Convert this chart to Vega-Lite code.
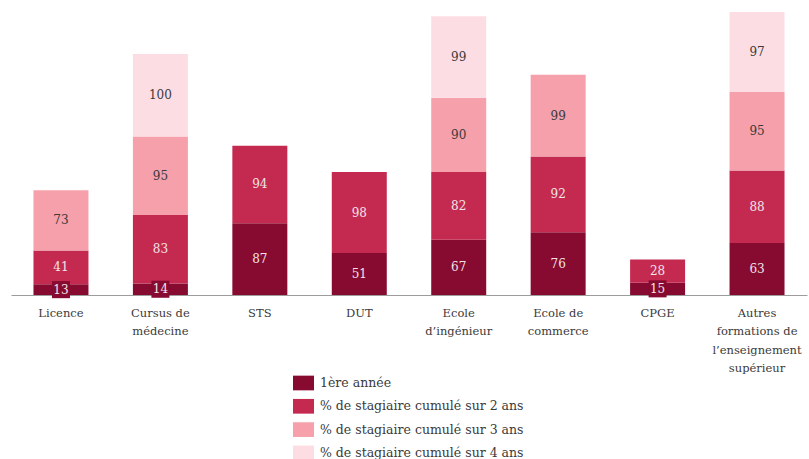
{
  "$schema": "https://vega.github.io/schema/vega-lite/v6.json",
  "width": 796,
  "height": 295,
  "autosize": {"type": "none"},
  "padding": {"left": 11, "top": 0, "right": 2, "bottom": 164},
  "background": "white",
  "config": {"view": {"stroke": null}, "font": "DejaVu Serif"},
  "data": {"values": [
    {"cat": "Licence", "serie": "1ère année", "order": 1, "value": 13},
    {"cat": "Licence", "serie": "% de stagiaire cumulé sur 2 ans", "order": 2, "value": 41},
    {"cat": "Licence", "serie": "% de stagiaire cumulé sur 3 ans", "order": 3, "value": 73},
    {"cat": "Cursus de médecine", "serie": "1ère année", "order": 1, "value": 14},
    {"cat": "Cursus de médecine", "serie": "% de stagiaire cumulé sur 2 ans", "order": 2, "value": 83},
    {"cat": "Cursus de médecine", "serie": "% de stagiaire cumulé sur 3 ans", "order": 3, "value": 95},
    {"cat": "Cursus de médecine", "serie": "% de stagiaire cumulé sur 4 ans", "order": 4, "value": 100},
    {"cat": "STS", "serie": "1ère année", "order": 1, "value": 87},
    {"cat": "STS", "serie": "% de stagiaire cumulé sur 2 ans", "order": 2, "value": 94},
    {"cat": "DUT", "serie": "1ère année", "order": 1, "value": 51},
    {"cat": "DUT", "serie": "% de stagiaire cumulé sur 2 ans", "order": 2, "value": 98},
    {"cat": "Ecole d’ingénieur", "serie": "1ère année", "order": 1, "value": 67},
    {"cat": "Ecole d’ingénieur", "serie": "% de stagiaire cumulé sur 2 ans", "order": 2, "value": 82},
    {"cat": "Ecole d’ingénieur", "serie": "% de stagiaire cumulé sur 3 ans", "order": 3, "value": 90},
    {"cat": "Ecole d’ingénieur", "serie": "% de stagiaire cumulé sur 4 ans", "order": 4, "value": 99},
    {"cat": "Ecole de commerce", "serie": "1ère année", "order": 1, "value": 76},
    {"cat": "Ecole de commerce", "serie": "% de stagiaire cumulé sur 2 ans", "order": 2, "value": 92},
    {"cat": "Ecole de commerce", "serie": "% de stagiaire cumulé sur 3 ans", "order": 3, "value": 99},
    {"cat": "CPGE", "serie": "1ère année", "order": 1, "value": 15},
    {"cat": "CPGE", "serie": "% de stagiaire cumulé sur 2 ans", "order": 2, "value": 28},
    {"cat": "Autres formations de l’enseignement supérieur", "serie": "1ère année", "order": 1, "value": 63},
    {"cat": "Autres formations de l’enseignement supérieur", "serie": "% de stagiaire cumulé sur 2 ans", "order": 2, "value": 88},
    {"cat": "Autres formations de l’enseignement supérieur", "serie": "% de stagiaire cumulé sur 3 ans", "order": 3, "value": 95},
    {"cat": "Autres formations de l’enseignement supérieur", "serie": "% de stagiaire cumulé sur 4 ans", "order": 4, "value": 97}
  ]},
  "transform": [
    {"stack": "value", "groupby": ["cat"], "sort": [{"field": "order", "order": "ascending"}], "as": ["v0", "v1"]},
    {"calculate": "(datum.v0 + datum.v1) / 2", "as": "vmid"}
  ],
  "encoding": {
    "x": {
      "field": "cat", "type": "nominal", "sort": null,
      "scale": {"paddingInner": 0.447, "paddingOuter": 0.226},
      "axis": {
        "title": null, "ticks": false, "labelAngle": 0, "domainColor": "#9c9c9c", "domainWidth": 1,
        "labelFont": "DejaVu Serif", "labelFontSize": 11.5, "labelColor": "#3a3a3a",
        "labelPadding": 12, "labelLineHeight": 18.5, "labelBaseline": "top",
        "labelExpr": "datum.value == 'Cursus de médecine' ? ['Cursus de','médecine'] : datum.value == 'Ecole d’ingénieur' ? ['Ecole','d’ingénieur'] : datum.value == 'Ecole de commerce' ? ['Ecole de','commerce'] : datum.value == 'Autres formations de l’enseignement supérieur' ? ['Autres','formations de','l’enseignement','supérieur'] : datum.value"
      }
    }
  },
  "layer": [
    {
      "mark": {"type": "bar"},
      "encoding": {
        "y": {"field": "v0", "type": "quantitative", "scale": {"domain": [0, 357.6], "nice": false}, "axis": null},
        "y2": {"field": "v1"},
        "color": {
          "field": "serie", "type": "nominal",
          "scale": {
            "domain": ["1ère année", "% de stagiaire cumulé sur 2 ans", "% de stagiaire cumulé sur 3 ans", "% de stagiaire cumulé sur 4 ans"],
            "range": ["#870B30", "#C42A50", "#F5A0AB", "#FDDDE4"]
          },
          "legend": {
            "title": null, "orient": "none", "legendX": 282, "legendY": 372.5, "padding": 0,
            "symbolType": "M-1,-0.7H1V0.7H-1Z", "symbolSize": 441, "symbolStrokeWidth": 0,
            "labelFont": "DejaVu Serif", "labelFontSize": 12.5, "labelColor": "#3a3a3a",
            "labelOffset": 6, "rowPadding": 5.3, "labelLimit": 300
          }
        }
      }
    },
    {
      "transform": [{"filter": "datum.order == 1 && datum.value < 20"}],
      "mark": {"type": "point", "shape": "M-1,-0.95H1V0.95H-1Z", "filled": true, "opacity": 1, "size": 324, "color": "#870B30"},
      "encoding": {
        "y": {"field": "vmid", "type": "quantitative"}
      }
    },
    {
      "mark": {"type": "text", "font": "DejaVu Serif", "fontSize": 12, "baseline": "middle", "align": "center"},
      "encoding": {
        "y": {"field": "vmid", "type": "quantitative"},
        "text": {"field": "value", "type": "quantitative"},
        "color": {"condition": {"test": "datum.order <= 2", "value": "#F2E4E8"}, "value": "#3a3a3a"}
      }
    }
  ]
}
